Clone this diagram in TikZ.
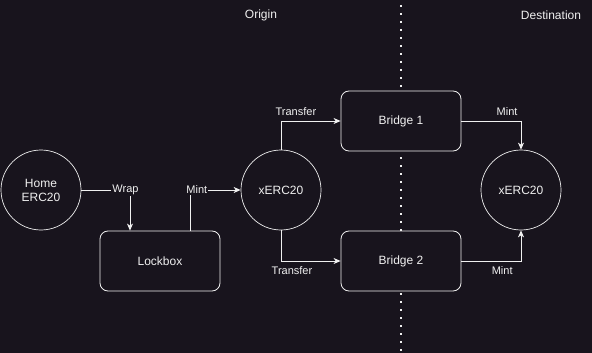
\documentclass[tikz,border=0pt]{standalone}
\usepackage{fontspec}
\setmainfont{Liberation Sans}
\usetikzlibrary{arrows.meta}
\definecolor{bg}{RGB}{24,20,29}
\definecolor{fg}{RGB}{240,240,240}
\begin{document}
\begin{tikzpicture}[x=1pt,y=-1pt,
  every node/.style={text=fg, inner sep=1pt},
  circ/.style={draw=fg, line width=0.7pt, circle, minimum size=80pt, fill=bg, font=\fontsize{12}{14}\selectfont, align=center},
  boxnode/.style={draw=fg, line width=0.8pt, rounded corners=8pt, minimum width=120pt, minimum height=60pt, fill=bg, font=\fontsize{12}{14}\selectfont},
  conn/.style={draw=fg, line width=0.8pt, -{Stealth[length=7pt,width=6pt,inset=2pt]}},
  lbl/.style={font=\fontsize{11}{13}\selectfont, fill=bg, inner sep=1pt},
  title/.style={font=\fontsize{12}{14}\selectfont}]
\fill[bg] (0,0) rectangle (592,353);
\useasboundingbox (0,0) rectangle (592,353);
\coordinate (dtop) at (401,5);
\coordinate (dbot) at (401,353);
\draw[fg, line width=1.6pt, dash pattern=on 1.6pt off 6.4pt] (dtop) -- (dbot);
\node[title] (origin) at (261,15) {Origin};
\node[title] (dest) at (551,15) {Destination};
\node[circ] (home) at (41,190) {Home\\ERC20};
\node[boxnode] (lock) at (160,261) {Lockbox};
\node[circ] (xo) at (281,190) {xERC20};
\node[boxnode] (b1) at (401,121) {Bridge 1};
\node[boxnode] (b2) at (401,261) {Bridge 2};
\node[circ] (xd) at (521,190) {xERC20};
\draw[conn] (home.east) -| (lock.north -| 130,0) node[lbl, pos=0.454] {Wrap};
\draw[conn] (lock.north -| 190,0) |- (xo.west) node[lbl, pos=0.567] {Mint};
\draw[conn] (xo.north) |- (b1.west) node[lbl, pos=0.625, above=4pt] {Transfer};
\draw[conn] (xo.south) |- (b2.west) node[lbl, pos=0.592, below=4pt] {Transfer};
\draw[conn] (b1.east) -| (xd.north) node[lbl, pos=0.383, above=4pt] {Mint};
\draw[conn] (b2.east) -| (xd.south) node[lbl, pos=0.342, below=4pt] {Mint};
\end{tikzpicture}
\end{document}
